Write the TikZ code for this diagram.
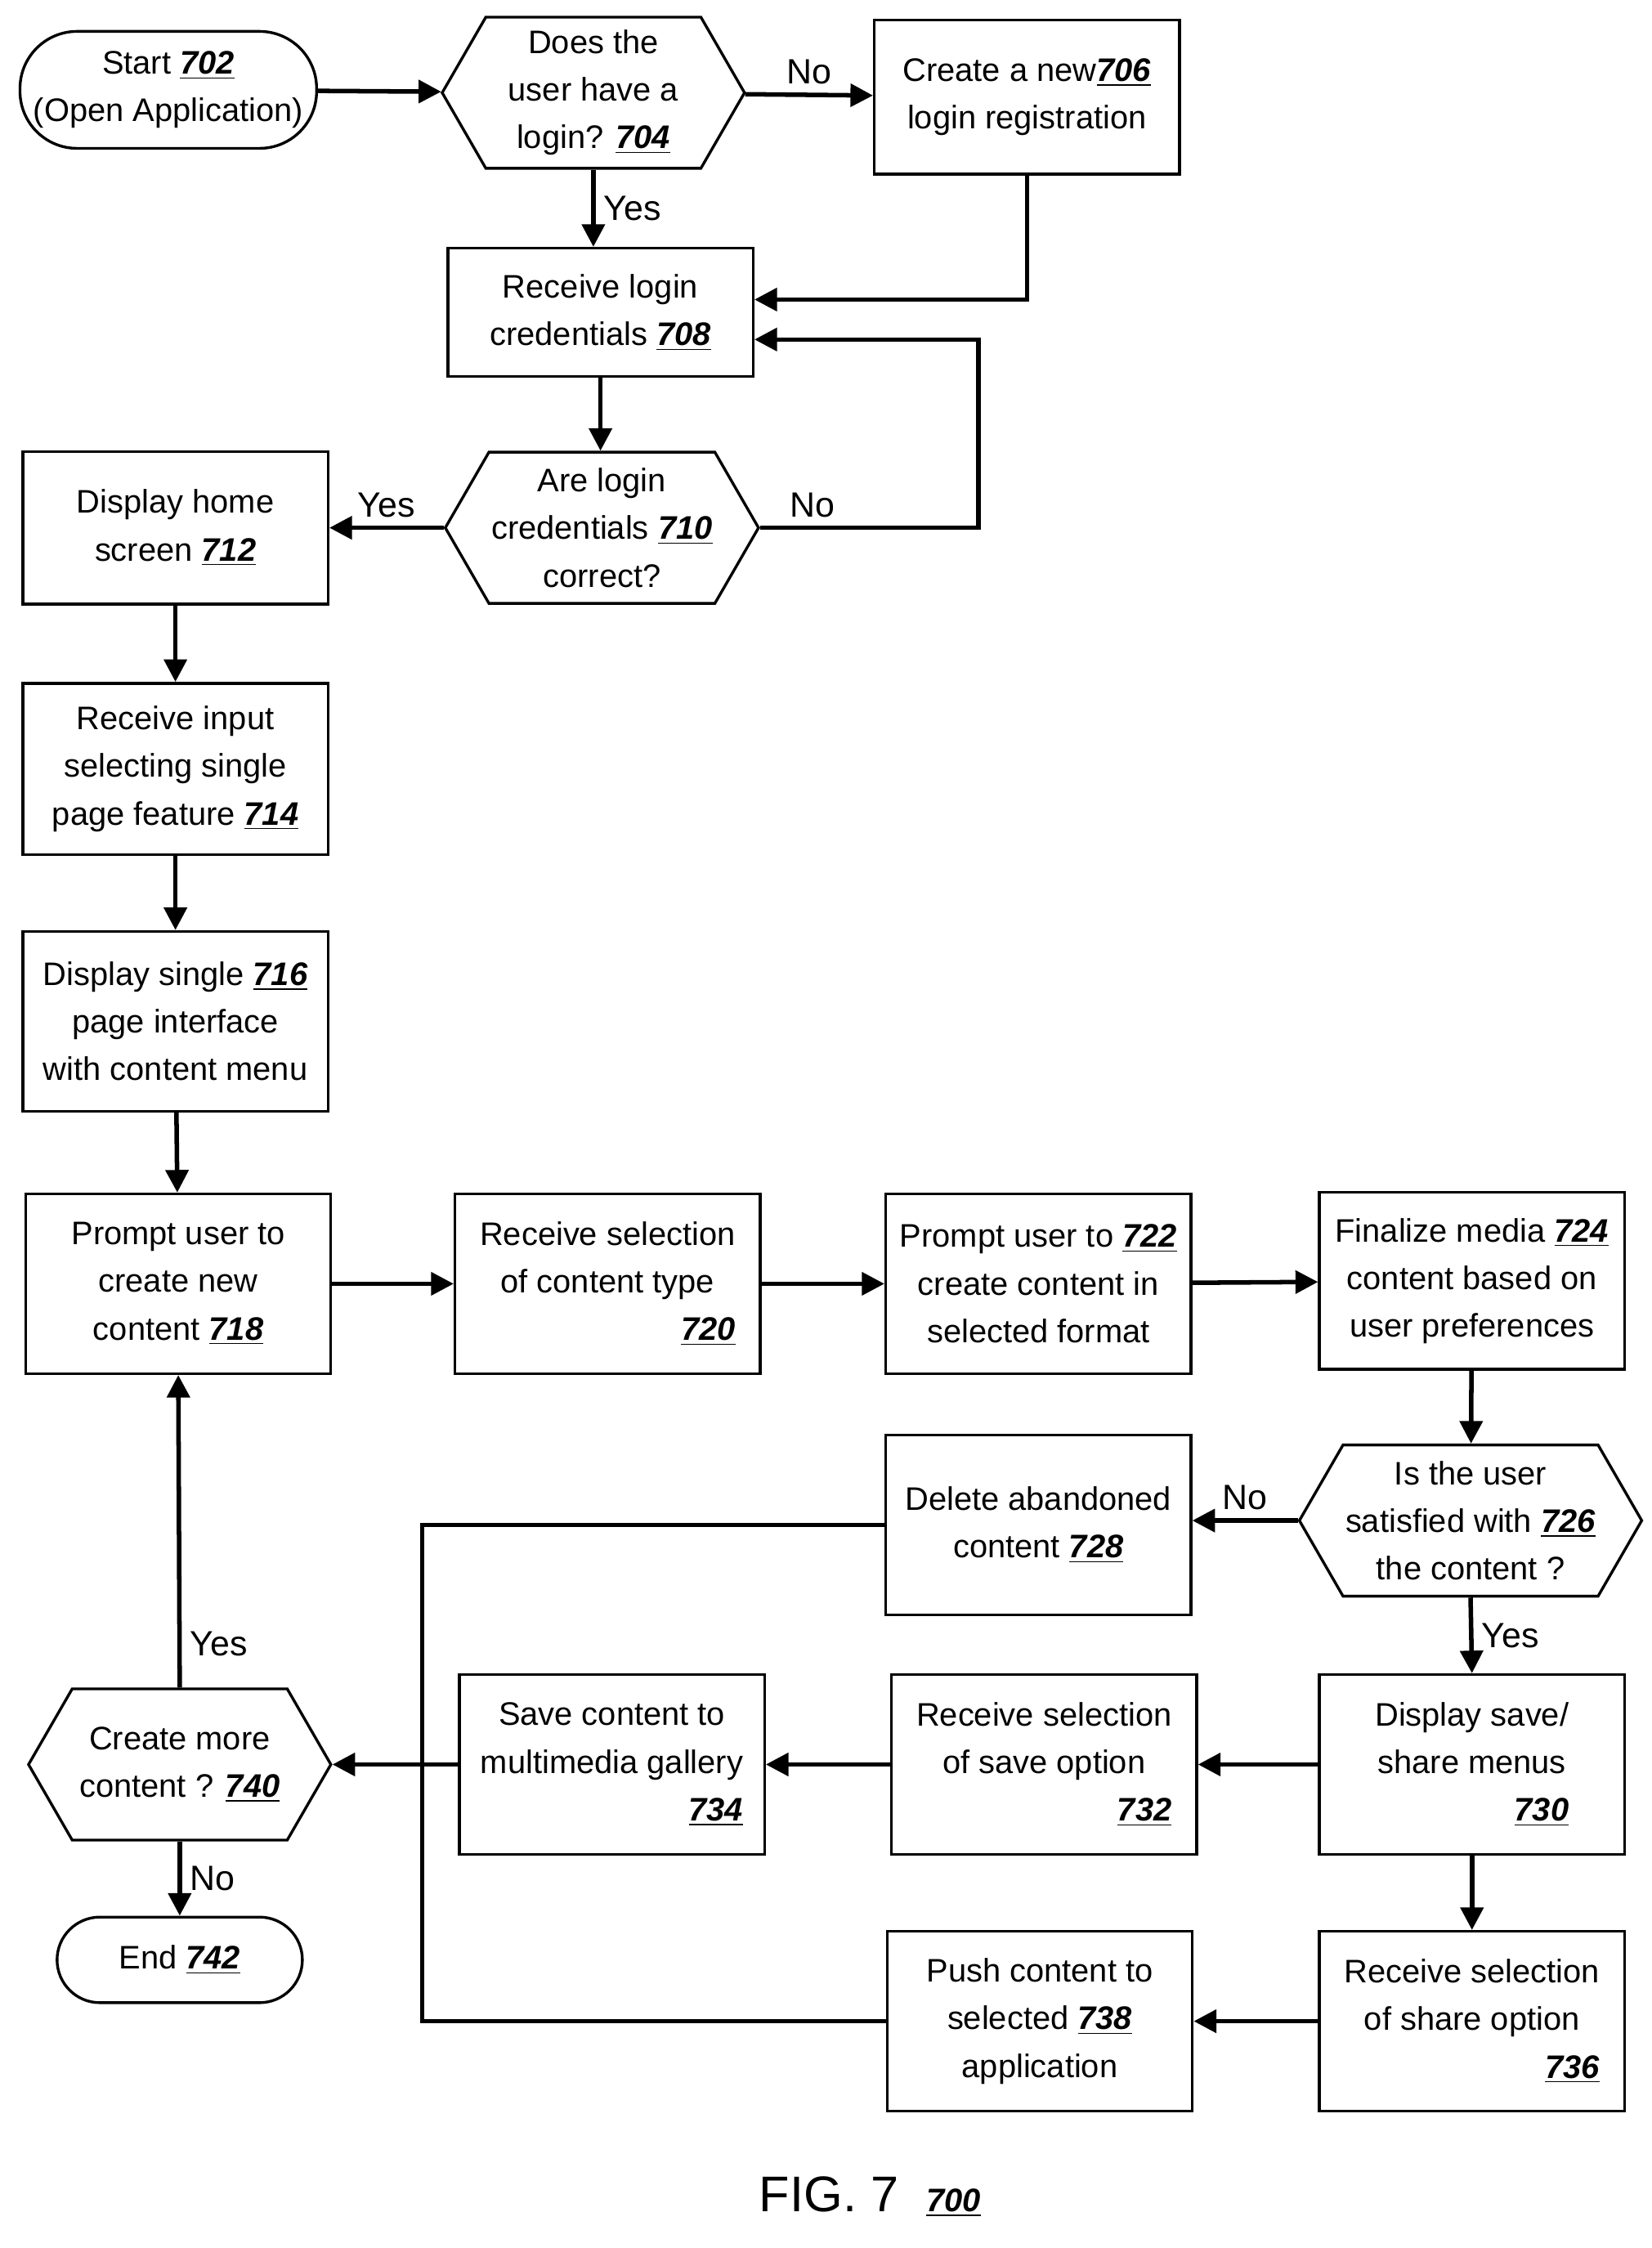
\documentclass[tikz,border=0pt]{standalone}
\usepackage{fontspec}
\setmainfont{Liberation Sans}
\usetikzlibrary{shapes.symbols,arrows.meta}
\newcommand{\rn}[1]{\underline{\textbf{\textit{#1}}}}
\begin{document}
\begin{tikzpicture}[x=0.02cm,y=-0.02cm,
  every node/.style={font=\fontsize{13}{19}\selectfont},
  box/.style={draw,line width=1.1pt,minimum width=4.28cm,minimum height=2.52cm,align=center,inner sep=2pt},
  hex/.style={draw,line width=1.1pt,shape=signal,signal to=east and west,signal pointer angle=120,minimum width=4.24cm,minimum height=2.12cm,align=center,inner sep=1pt},
  term/.style={draw,line width=1.1pt,rounded corners=0.8cm,align=center},
  ar/.style={line width=1.8pt,-{Triangle[length=9pt,width=9pt]}},
  ln/.style={line width=1.8pt},
  lb/.style={font=\fontsize{14}{16}\selectfont}]
\useasboundingbox (0,0) rectangle (1158,1576);
\node[term,minimum width=4.16cm,minimum height=1.64cm] (n702) at (118,63) {Start \rn{702}\\(Open Application)};
\node[hex] (n704) at (416,65) {Does the\\user have a\\login? \rn{704}};
\node[box,minimum height=2.16cm] (n706) at (720,68) {Create a new\rn{706}\\login registration};
\node[box,minimum height=1.8cm] (n708) at (421,219) {Receive login\\credentials \rn{708}};
\node[hex] (n710) at (422,370) {Are login\\credentials \rn{710}\\correct?};
\node[box,minimum height=2.14cm] (n712) at (123,370) {Display home\\screen \rn{712}};
\node[box,minimum height=2.4cm] (n714) at (123,539) {Receive input\\selecting single\\page feature \rn{714}};
\node[box] (n716) at (123,716) {Display single \rn{716}\\page interface\\with content menu};
\node[box] (n718) at (125,900) {Prompt user to\\create new\\content \rn{718}};
\node[box] (n720) at (426,900) {Receive selection\\of content type\\\hfill\rn{720}};
\node[box] (n722) at (728,900) {Prompt user to \rn{722}\\create content in\\selected format};
\node[box,minimum height=2.48cm] (n724) at (1032,898) {Finalize media \rn{724}\\content based on\\user preferences};
\node[hex,minimum width=4.3cm] (n726) at (1031,1066) {Is the user\\satisfied with \rn{726}\\the content ?};
\node[box] (n728) at (728,1069) {Delete abandoned\\content \rn{728}};
\node[box] (n730) at (1032,1237) {Display save/\\share menus\\\hfill\rn{730}};
\node[box] (n732) at (732,1237) {Receive selection\\of save option\\\hfill\rn{732}};
\node[box] (n734) at (429,1237) {Save content to\\multimedia gallery\\\hfill\rn{734}};
\node[hex] (n740) at (126,1237) {Create more\\content ? \rn{740}};
\node[term,minimum width=3.44cm,minimum height=1.2cm,rounded corners=0.6cm] (n742) at (126,1374) {End \rn{742}};
\node[box] (n736) at (1032,1417) {Receive selection\\of share option\\\hfill\rn{736}};
\node[box] (n738) at (729,1417) {Push content to\\selected \rn{738}\\application};
\node[font=\fontsize{20}{22}\selectfont] (fig) at (610,1540) {FIG. 7 \;\fontsize{13}{15}\selectfont\rn{700}};
\draw[ar] (n702) -- (n704);
\draw[ar] (n704) -- node[above,lb]{No} (n706);
\draw[ar] (n704.south) -- node[right,lb]{Yes} (n704.south|-n708.north);
\draw[ar] (n706.south) |- (n708.east|-0,210);
\draw[ar] (n708.south) -- (n708.south|-n710.north);
\draw[ar] (n710.east) -| (686,238) node[pos=0.12,above,lb]{No} -- (n708.east|-0,238);
\draw[ar] (n710.west) -- node[above,lb]{Yes} (n712.east);
\draw[ar] (n712) -- (n714);
\draw[ar] (n714) -- (n716);
\draw[ar] (n716) -- (n718);
\draw[ar] (n718) -- (n720);
\draw[ar] (n720) -- (n722);
\draw[ar] (n722) -- (n724);
\draw[ar] (n724) -- (n726);
\draw[ar] (n726.west) -- node[above,lb]{No} (n728.east|-n726.west);
\draw[ar] (n726.south) -- node[right,lb]{Yes} (n730.north);
\draw[ar] (n730) -- (n732);
\draw[ar] (n732) -- (n734);
\draw[ar] (n734) -- (n740.east);
\draw[ar] (n730) -- (n736);
\draw[ar] (n736) -- (n738);
\draw[ln] (n728.west) -- (296,1069) -- (296,1417) -- (n738.west);
\draw[ar] (n740.north) -- node[right,lb,pos=0.14]{Yes} (n718.south);
\draw[ar] (n740.south) -- node[right,lb]{No} (n742.north);
\end{tikzpicture}
\end{document}
